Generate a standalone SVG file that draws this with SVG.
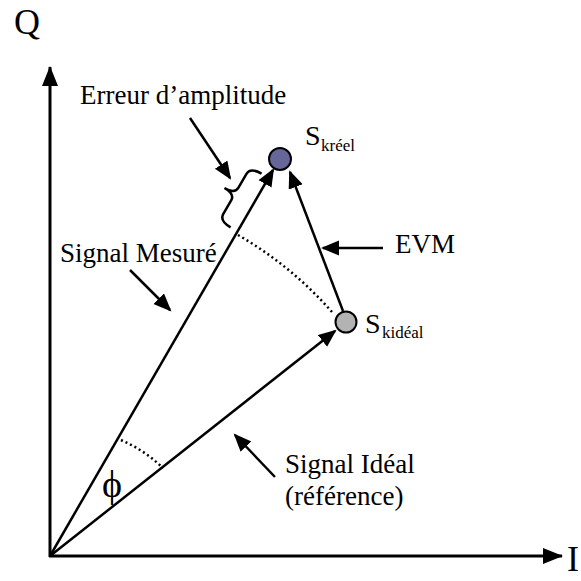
<svg xmlns="http://www.w3.org/2000/svg" width="581" height="581" viewBox="0 0 581 581">
<style>
text{font-family:"Liberation Serif","Times New Roman","DejaVu Serif",serif;fill:#000}
.lbl{font-size:27px}
.ax{font-size:36px}
.s{font-size:28px}
.sub{font-size:17px}
.axis{stroke:#000;stroke-width:3;fill:none}
.vec{stroke:#000;stroke-width:2.5;fill:none}
.dot{stroke:#000;stroke-width:2.5;fill:none;stroke-dasharray:2 3}
</style>
<defs>
<marker id="ah" markerUnits="userSpaceOnUse" markerWidth="20" markerHeight="16" refX="16" refY="7.5" orient="auto">
<path d="M0,0 L18,7.5 L0,15 z" fill="#000"/>
</marker>
<marker id="axh" markerUnits="userSpaceOnUse" markerWidth="22" markerHeight="18" refX="19" refY="8" orient="auto">
<path d="M0,0 L20,8 L0,16 z" fill="#000"/>
</marker>
</defs>
<g id="connectors">
<line class="axis" x1="50" y1="557" x2="50" y2="67" marker-end="url(#axh)"/>
<line class="axis" x1="49" y1="556" x2="562" y2="556" marker-end="url(#axh)"/>
<line class="vec" x1="50" y1="556" x2="273" y2="170" marker-end="url(#ah)"/>
<line class="vec" x1="50" y1="556" x2="335" y2="331" marker-end="url(#ah)"/>
<line class="vec" x1="343" y1="311" x2="290" y2="172" marker-end="url(#ah)"/>
<line class="vec" x1="190" y1="118" x2="230" y2="178" marker-end="url(#ah)"/>
<line class="vec" x1="130" y1="270" x2="170" y2="310" marker-end="url(#ah)"/>
<line class="vec" x1="275" y1="477" x2="235" y2="435" marker-end="url(#ah)"/>
<line class="vec" x1="383" y1="248" x2="323" y2="248" marker-end="url(#ah)"/>
<path class="dot" d="M238,235 A372,372 0 0 1 332,312"/>
<path class="dot" d="M121,440 A140,140 0 0 1 163,468"/>
<path class="vec" transform="translate(253,204.5) rotate(-60)" d="M-31,-8 C-31,-18 -28,-21 -23,-21 L-7,-21 C-2,-21 0,-25 0,-33 C0,-25 2,-21 7,-21 L23,-21 C28,-21 31,-18 31,-8"/>
</g>
<g id="axis-Q"><text class="ax" x="14" y="34">Q</text></g>
<g id="axis-I"><text class="ax" x="567" y="571">I</text></g>
<g id="node-kreel">
<circle cx="280" cy="159" r="11" fill="#666699" stroke="#000" stroke-width="2"/>
<text class="s" x="305" y="145">S<tspan class="sub" x="321" y="151">kréel</tspan></text>
</g>
<g id="node-kideal">
<circle cx="346" cy="322" r="10.5" fill="#b3b3b3" stroke="#000" stroke-width="2"/>
<text class="s" x="365" y="333">S<tspan class="sub" x="382" y="338">kidéal</tspan></text>
</g>
<g id="label-amplitude"><text class="lbl" x="80" y="104">Erreur d’amplitude</text></g>
<g id="label-mesure"><text class="lbl" x="60" y="262">Signal Mesuré</text></g>
<g id="label-evm"><text class="lbl" x="395" y="253">EVM</text></g>
<g id="label-ideal"><text class="lbl" x="285" y="473">Signal Idéal</text><text class="lbl" x="285" y="505">(référence)</text></g>
<g id="label-phi"><text x="112" y="497" font-size="38" text-anchor="middle">ϕ</text></g>
</svg>
